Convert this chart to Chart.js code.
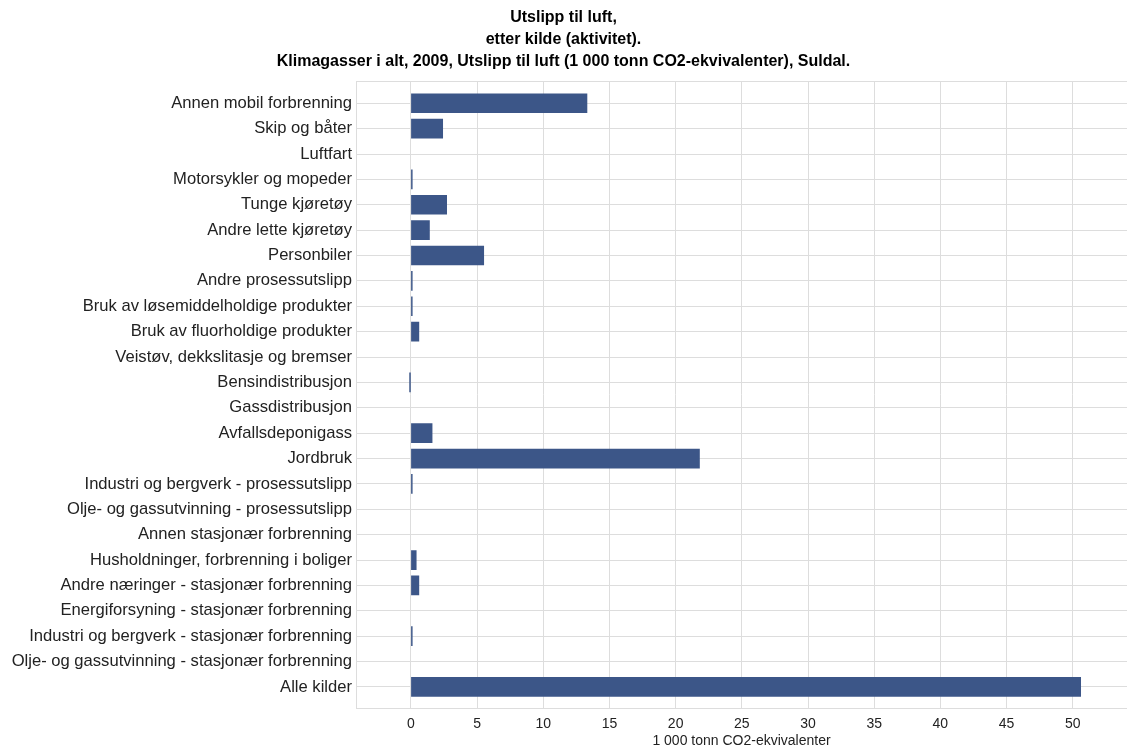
<!DOCTYPE html>
<html>
<head>
<meta charset="utf-8">
<script src="https://cdn.jsdelivr.net/npm/chart.js@4.4.0/dist/chart.umd.min.js"></script>
<style>
  html, body { margin: 0; padding: 0; background: #fff; }
  #wrap { width: 1127px; height: 746px; }
</style>
</head>
<body>
<div id="wrap"><canvas id="utslipp"></canvas></div>
<script>
const kilder = [
    "Annen mobil forbrenning",
    "Skip og båter",
    "Luftfart",
    "Motorsykler og mopeder",
    "Tunge kjøretøy",
    "Andre lette kjøretøy",
    "Personbiler",
    "Andre prosessutslipp",
    "Bruk av løsemiddelholdige produkter",
    "Bruk av fluorholdige produkter",
    "Veistøv, dekkslitasje og bremser",
    "Bensindistribusjon",
    "Gassdistribusjon",
    "Avfallsdeponigass",
    "Jordbruk",
    "Industri og bergverk - prosessutslipp",
    "Olje- og gassutvinning - prosessutslipp",
    "Annen stasjonær forbrenning",
    "Husholdninger, forbrenning i boliger",
    "Andre næringer - stasjonær forbrenning",
    "Energiforsyning - stasjonær forbrenning",
    "Industri og bergverk - stasjonær forbrenning",
    "Olje- og gassutvinning - stasjonær forbrenning",
    "Alle kilder"
];

// null = no bar drawn in the source
const utslipp = [13.3, 2.4, null, 0.1, 2.7, 1.4, 5.5, 0.1, 0.1, 0.6, null, -0.1, null,
    1.6, 21.8, 0.1, null, null, 0.4, 0.6, null, 0.1, null, 50.6];

const xTicks = [0, 5, 10, 15, 20, 25, 30, 35, 40, 45, 50];

const titleLines = [
    "Utslipp til luft,",
    "etter kilde (aktivitet).",
    "Klimagasser i alt, 2009, Utslipp til luft (1 000 tonn CO2-ekvivalenter), Suldal."
];

const yMin = -0.87;
const yMax = 23.83;

Chart.defaults.font.family = "'Liberation Sans', Arial, sans-serif";
Chart.defaults.color = "#222";

new Chart(document.getElementById("utslipp"), {
    type: 'bar',
    data: {
        datasets: [
            {
                data: utslipp.map((v, i) => ({ x: v, y: i })),
                backgroundColor: "#3c5688",
                borderWidth: 0,
                barThickness: 19
            }
        ]
    },
    options: {
        indexAxis: 'y',
        responsive: true,
        maintainAspectRatio: false,
        animation: false,
        layout: { padding: { top: 6, left: 0, right: 0, bottom: 0 } },
        plugins: {
            legend: { display: false },
            tooltip: { enabled: false },
            title: {
                display: true,
                text: titleLines,
                color: "#000",
                font: { size: 16, weight: 'bold', lineHeight: 1.4 },
                padding: { top: 0, bottom: 8 }
            }
        },
        scales: {
            x: {
                type: 'linear',
                min: -4.15,
                max: 54.1,
                afterBuildTicks: s => { s.ticks = xTicks.map(v => ({ value: v })); },
                afterFit: s => { s.height = 38; },
                grid: { color: "#dddddd", drawTicks: false },
                border: { color: "#dddddd" },
                ticks: { font: { size: 14 }, padding: 8, color: "#222" },
                title: {
                    display: true,
                    text: "1 000 tonn CO2-ekvivalenter",
                    font: { size: 14, lineHeight: 1.0 },
                    padding: { top: 0, bottom: -2 },
                    color: "#222"
                }
            },
            y: {
                type: 'linear',
                reverse: true,
                offset: false,
                min: yMin,
                max: yMax,
                afterBuildTicks: s => {
                    s.ticks = [yMin].concat(kilder.map((k, i) => i), [yMax]).map(v => ({ value: v }));
                },
                afterFit: s => { s.width = 356; },
                grid: { color: "#dddddd", drawTicks: false, offset: false },
                border: { color: "#dddddd" },
                ticks: {
                    font: { size: 16.6 },
                    padding: 4,
                    color: "#222",
                    autoSkip: false,
                    callback: v => (Number.isInteger(v) ? kilder[v] : '')
                }
            }
        }
    }
});
</script>
</body>
</html>
